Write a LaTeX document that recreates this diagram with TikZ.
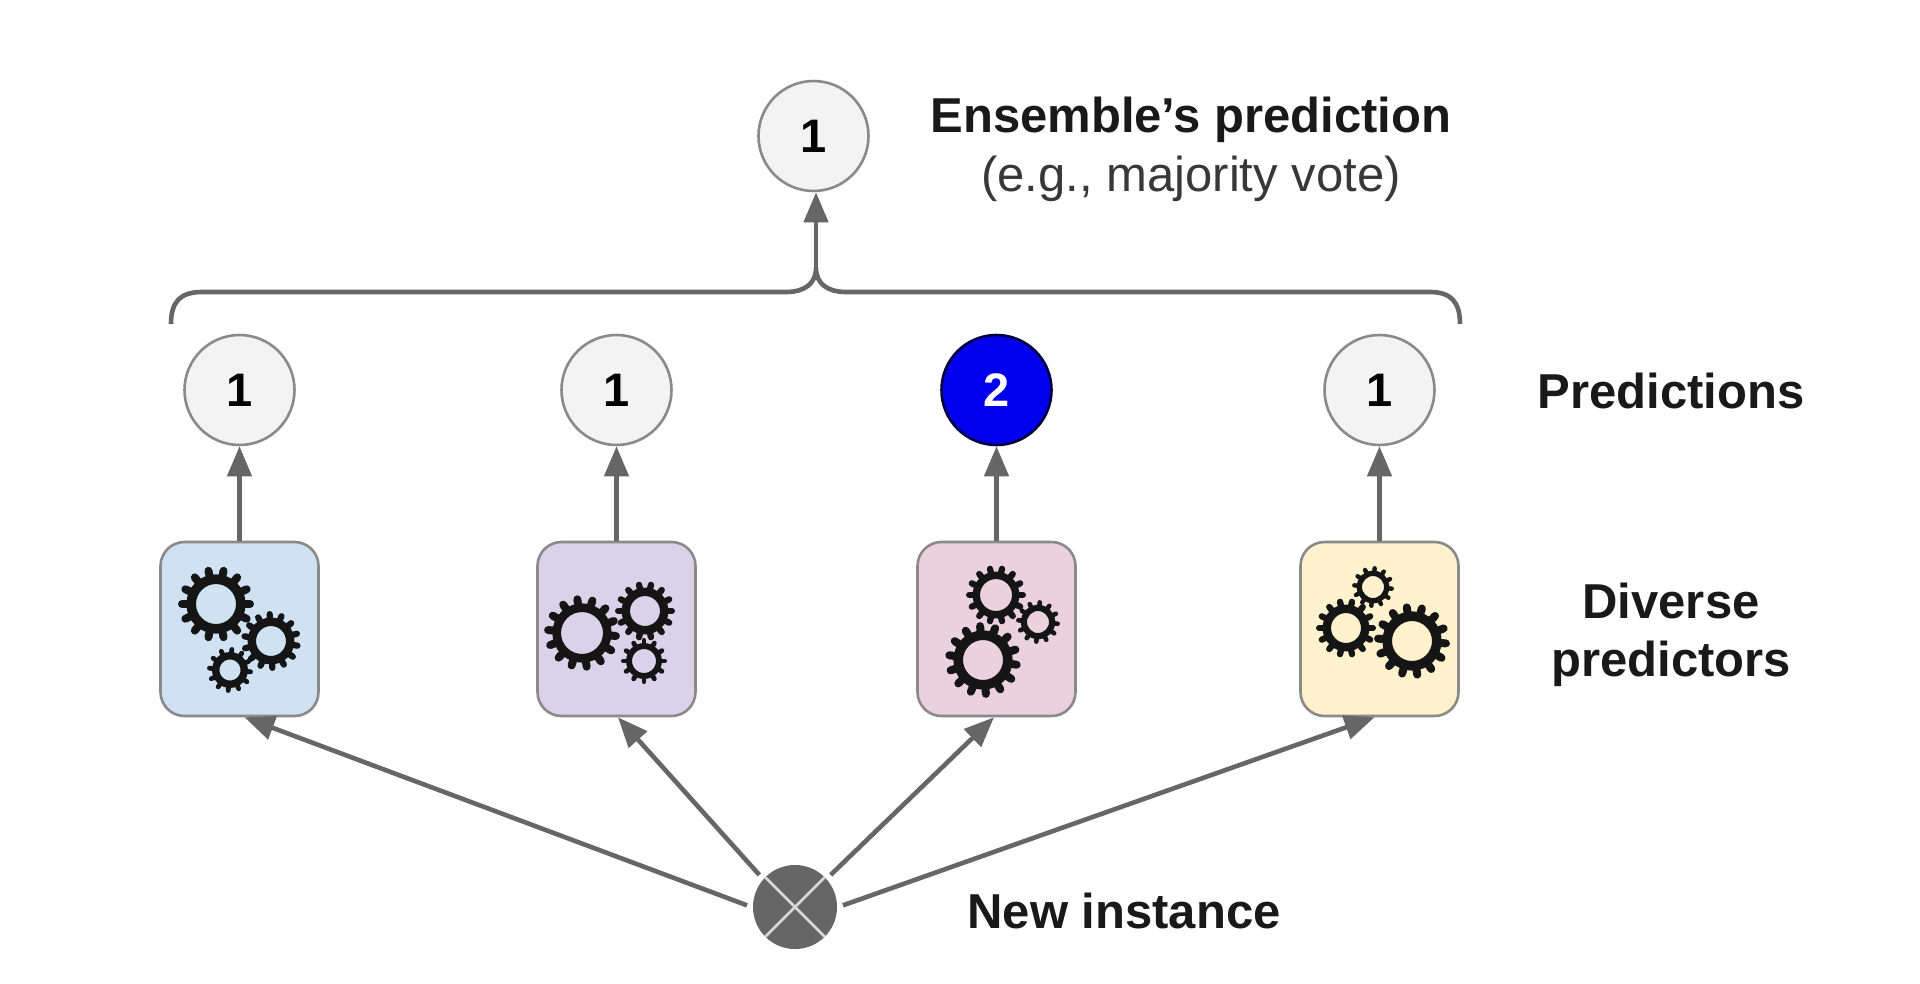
\documentclass[tikz,border=0pt]{standalone}
\usepackage{fontspec}
\setmainfont{Liberation Sans}
\usetikzlibrary{arrows.meta}
\definecolor{linegray}{HTML}{666666}
\definecolor{edgegray}{HTML}{8A8A8A}
\definecolor{circfill}{HTML}{F3F3F3}
\definecolor{gearblack}{HTML}{151515}
\tikzset{
  x=1pt,y=-1pt,
  predcirc/.style={circle,draw=edgegray,line width=2.6pt,fill=circfill,minimum size=110pt,inner sep=0pt,text=black,font=\fontsize{47}{47}\selectfont\bfseries},
  bluecirc/.style={predcirc,draw=black!75!blue,fill=blue!93!black,text=white},
  modelbox/.style={rectangle,rounded corners=24pt,draw=edgegray,line width=2.6pt,minimum width=158pt,minimum height=174pt,inner sep=0pt},
  arrowline/.style={draw=linegray,line width=4.6pt,-{Triangle[length=30pt,width=24pt,fill=linegray]}},
  bracket/.style={draw=linegray,line width=4.6pt},
  caption/.style={align=center,inner sep=0pt,text=black!90,font=\fontsize{49}{58}\selectfont\bfseries},
  subcaption/.style={align=center,inner sep=0pt,text=black!78,font=\fontsize{49}{58}\selectfont},
}
% gear: x, y, outer radius, hole radius, teeth, rotation
\newcommand{\mygear}[6]{%
  \pgfmathsetmacro{\rb}{#3*0.78}%
  \pgfmathsetmacro{\tw}{#3*0.21}%
  \pgfmathsetmacro{\rt}{#3-\tw/2}%
  \pgfmathsetmacro{\lw}{\rb-#4}%
  \pgfmathsetmacro{\rm}{(\rb+#4)/2}%
  \draw[gearblack,line width=\lw pt] (#1,#2) circle[radius=\rm];%
  \pgfmathsetmacro{\stepang}{360/#5}%
  \foreach \k in {1,...,#5}{%
    \pgfmathsetmacro{\ang}{#6+\k*\stepang}%
    \draw[gearblack,line width=\tw pt,line cap=round] (#1,#2) ++(\ang:\rb) -- ++(\ang:\rt-\rb);%
  }%
}
\begin{document}
\begin{tikzpicture}
\useasboundingbox (0,0) rectangle (1920,983);
\fill[white] (0,0) rectangle (1920,983);

% Predictor boxes
\node[modelbox,fill={rgb,255:red,207;green,226;blue,243}] (b1) at (239.5,629) {};
\node[modelbox,fill={rgb,255:red,217;green,210;blue,233}] (b2) at (616.5,629) {};
\node[modelbox,fill={rgb,255:red,234;green,209;blue,220}] (b3) at (996.5,629) {};
\node[modelbox,fill={rgb,255:red,255;green,242;blue,204}] (b4) at (1379.5,629) {};

% Gears
\mygear{216}{604}{38}{20}{14}{0}
\mygear{271}{641}{30}{15}{14}{10}
\mygear{230}{670}{23}{10.5}{12}{5}

\mygear{582}{633}{38}{21}{14}{5}
\mygear{645}{611}{30}{15}{14}{0}
\mygear{644}{661}{23}{12}{12}{0}

\mygear{983}{660}{38}{20}{14}{8}
\mygear{996}{595}{30}{16}{14}{0}
\mygear{1038}{622}{22}{11}{12}{5}

\mygear{1412}{641}{38}{20}{14}{4}
\mygear{1346}{628}{30}{15}{14}{0}
\mygear{1373}{587}{21}{11}{12}{5}

% Prediction circles
\node[predcirc] (top) at (813.5,136) {1};
\node[predcirc] (p1) at (239.5,390) {1};
\node[predcirc] (p2) at (616.5,390) {1};
\node[bluecirc] (p3) at (996.5,390) {2};
\node[predcirc] (p4) at (1379.5,390) {1};

% New instance
\node[circle,fill=linegray,minimum size=84pt,inner sep=0pt,outer sep=6pt,
  path picture={\draw[white!85!black,line width=2.6pt]
    (path picture bounding box.north west)--(path picture bounding box.south east)
    (path picture bounding box.north east)--(path picture bounding box.south west);}] (x) at (795,907) {};

% Arrows
\draw[arrowline] (b1.north) -- (p1.south);
\draw[arrowline] (b2.north) -- (p2.south);
\draw[arrowline] (b3.north) -- (p3.south);
\draw[arrowline] (b4.north) -- (p4.south);
\draw[arrowline] (x.178) -- ([xshift=5pt]b1.south);
\draw[arrowline] (x.138) -- ([xshift=1.5pt]b2.south);
\draw[arrowline] (x.42) -- ([xshift=-2.5pt]b3.south);
\draw[arrowline] (x.2) -- ([xshift=-5pt]b4.south);

% Brace
\coordinate (bl) at (171,324);
\coordinate (br) at (1460,324);
\coordinate (bj) at (816,268);
\draw[bracket] (bl) .. controls (171,302) and (180,292) .. (202,292) -- (786,292)
  .. controls (804,292) and (816,284) .. (bj)
  .. controls (816,284) and (828,292) .. (846,292) -- (1430,292)
  .. controls (1451,292) and (1460,302) .. (br);
\draw[arrowline] (bj) -- (bj |- top.south);

% Labels
\node[caption] (t1) at (1191,120) {Ensemble’s prediction};
\node[subcaption] (t2) at (1191,179) {(e.g., majority vote)};
\node[caption] (t3) at (1671,391) {Predictions};
\node[caption] (t4) at (1671,635) {Diverse\\predictors};
\node[caption] (t5) at (1124,911) {New instance};
\end{tikzpicture}
\end{document}
